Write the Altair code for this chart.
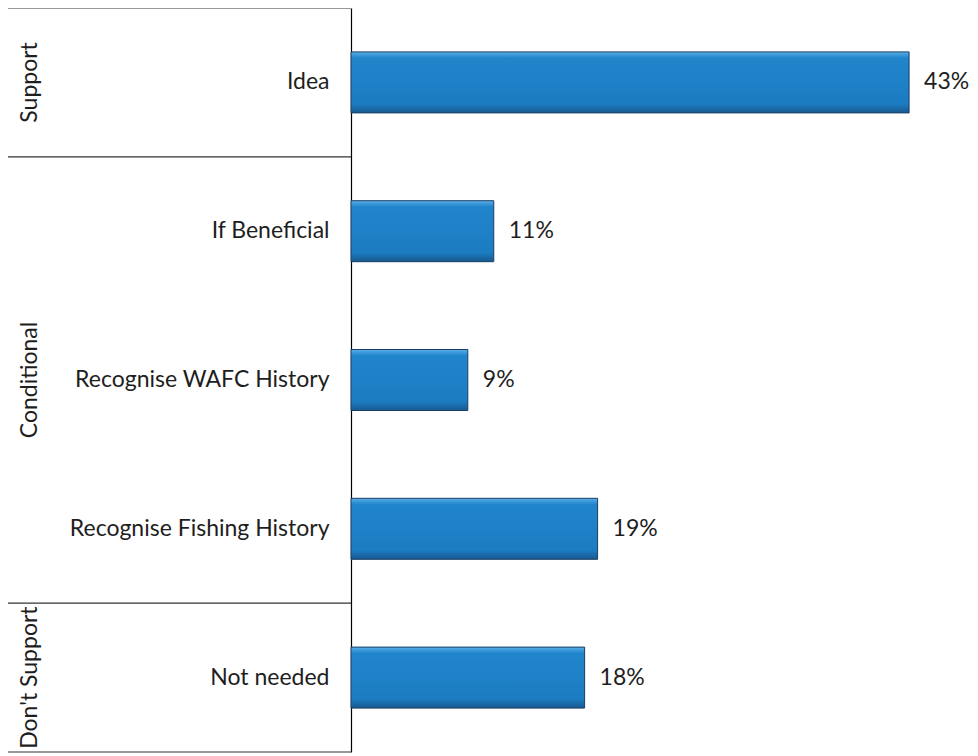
import altair as alt
import pandas as pd

groups = ["Support", "Conditional", "Conditional", "Conditional", "Don't Support"]
categories = ["Idea", "If Beneficial", "Recognise WAFC History", "Recognise Fishing History", "Not needed"]
values = [43, 11, 9, 19, 18]

group_names = ["Support", "Conditional", "Don't Support"]
group_mid = ["Idea", "Recognise WAFC History", "Not needed"]
group_top = ["Idea", "If Beneficial", "Not needed"]

df = pd.DataFrame({"group": groups, "cat": categories, "value": values})
df["label"] = [f"{v}%" for v in values]
gdf = pd.DataFrame({"group": group_names, "cat": group_mid})
tops = pd.DataFrame({"cat": group_top})
bottom = pd.DataFrame({"cat": [categories[-1]]})

FONT = "Lato"
FS = 23
ysc = alt.Scale(domain=categories, paddingInner=0, paddingOuter=0)
xsc = alt.Scale(domain=[0, 47])

base = alt.Chart(df)

grad = alt.Gradient(
    gradient="linear", x1=0, y1=0, x2=0, y2=1,
    stops=[
        alt.GradientStop(color="#5aaee6", offset=0),
        alt.GradientStop(color="#2185cc", offset=0.1),
        alt.GradientStop(color="#1c7cc2", offset=0.85),
        alt.GradientStop(color="#17598f", offset=1),
    ],
)

bars = base.mark_bar(size=61, color=grad, stroke="#1a3f66", strokeWidth=1).encode(
    y=alt.Y("cat:N", scale=ysc, sort=categories,
            axis=alt.Axis(title=None, ticks=False, labelFontSize=FS, labelFont=FONT,
                          labelColor="#1e1e1e", labelPadding=22, domainColor="#000000",
                          domainWidth=1.2, labelLimit=400)),
    x=alt.X("value:Q", scale=xsc, axis=None),
)

texts = base.mark_text(align="left", baseline="middle", dx=15, fontSize=FS, font=FONT,
                       color="#1e1e1e").encode(
    y=alt.Y("cat:N", scale=ysc, sort=categories),
    x=alt.X("value:Q", scale=xsc),
    text="label:N",
)

glabels = alt.Chart(gdf).mark_text(angle=270, align="center", baseline="middle",
                                   fontSize=FS, font=FONT, color="#1e1e1e").encode(
    y=alt.Y("cat:N", scale=ysc, sort=categories),
    x=alt.value(-321),
    text="group:N",
)

top_rules = alt.Chart(tops).mark_rule(color="#333333", strokeWidth=1.2).encode(
    y=alt.Y("cat:N", scale=ysc, sort=categories, bandPosition=0),
    x=alt.value(-343), x2=alt.value(0),
)
bottom_rule = alt.Chart(bottom).mark_rule(color="#333333", strokeWidth=1.2).encode(
    y=alt.Y("cat:N", scale=ysc, sort=categories, bandPosition=1),
    x=alt.value(-343), x2=alt.value(0),
)

chart = alt.layer(top_rules, bottom_rule, bars, texts, glabels).properties(
    width=610, height=744,
    autosize=alt.AutoSizeParams(type="none"),
    padding={"left": 343, "top": 0, "right": 8, "bottom": 2},
    background="white",
).configure_view(stroke=None)

chart.save("out.html", embed_options={"renderer": "svg", "actions": False})
